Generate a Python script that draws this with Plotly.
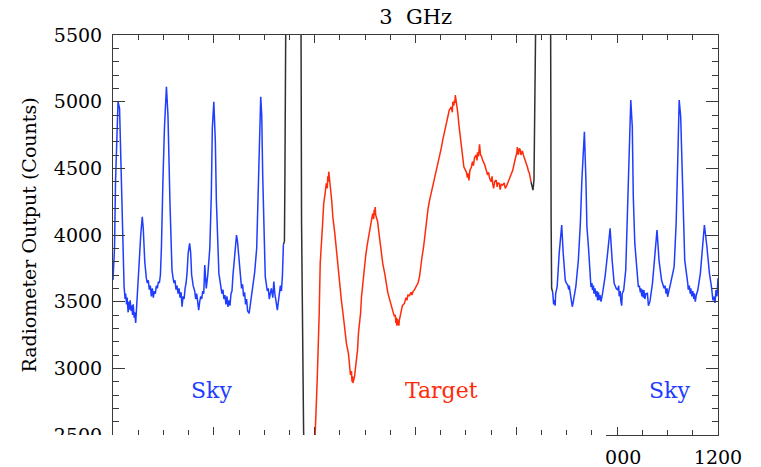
import plotly.graph_objects as go

# Radiometer scan at 3 GHz: sky / target / sky, counts versus sample number
sky1_x = [0, 3, 5, 8, 10, 13, 16, 19, 22, 24,
          25, 27, 28, 30, 31, 33, 34, 36, 37, 39,
          40, 42, 43, 45, 47, 49, 52, 55, 58, 60,
          63, 66, 68, 70, 72, 74, 76, 78, 80, 82,
          84, 86, 88, 90, 92, 94, 96, 99, 102, 106,
          109, 113, 117, 119, 121, 123, 125, 127, 129, 131,
          133, 135, 137, 139, 141, 143, 145, 147, 149, 152,
          154, 156, 159, 162, 164, 166, 168, 170, 172, 174,
          176, 178, 180, 182, 185, 188, 192, 195, 197, 200,
          203, 205, 210, 212, 214, 216, 218, 220, 222, 224,
          226, 228, 230, 232, 234, 236, 238, 242, 245, 247,
          250, 253, 255, 257, 259, 261, 263, 265, 267, 270,
          273, 277, 281, 285, 288, 290, 293, 295, 297, 302,
          304, 306, 308, 310, 312, 314, 317, 319, 321, 323,
          326, 328, 330, 332, 334, 336, 338]
sky1_y = [3662, 3900, 4400, 4900, 5000, 4950, 4437, 4062, 3612, 3520,
          3560, 3480, 3530, 3420, 3500, 3440, 3510, 3430, 3470, 3400,
          3480, 3380, 3420, 3340, 3450, 3600, 3800, 4000, 4137, 4050,
          3800, 3680, 3640, 3660, 3590, 3620, 3540, 3600, 3530, 3580,
          3560, 3620, 3600, 3650, 3640, 3700, 3900, 4400, 4800, 5112,
          4900, 4240, 3737, 3680, 3640, 3660, 3590, 3620, 3560, 3600,
          3530, 3570, 3462, 3540, 3520, 3600, 3640, 3720, 3860, 3937,
          3870, 3700, 3620, 3580, 3520, 3560, 3490, 3437, 3500, 3540,
          3520, 3580, 3560, 3775, 3600, 3700, 3900, 4300, 4800, 5000,
          4700, 4262, 3712, 3660, 3620, 3560, 3590, 3520, 3550, 3480,
          3540, 3460, 3510, 3470, 3560, 3580, 3700, 3900, 4000, 3950,
          3800, 3662, 3600, 3630, 3540, 3570, 3480, 3520, 3430, 3412,
          3500, 3600, 3720, 3900, 4300, 4700, 5037, 4900, 4437, 3687,
          3620, 3580, 3600, 3520, 3560, 3600, 3530, 3650, 3560, 3520,
          3437, 3500, 3560, 3620, 3580, 3690, 3930]

edge1_x = [338, 340, 341, 342, 344, 368, 373, 374, 376, 378, 380, 384]
edge1_y = [3930, 3950, 4450, 5300, 6500, 6500, 5500, 4090, 3137, 2537, 2200, 1900]

target_x = [399, 401, 405, 409, 411, 415, 418, 421, 423, 425,
            426, 427, 428, 429, 430, 431, 434, 436, 440, 443,
            446, 450, 453, 457, 460, 463, 467, 469, 471, 473,
            474, 475, 476, 479, 482, 485, 487, 491, 493, 496,
            499, 501, 504, 507, 509, 513, 515, 517, 518, 519,
            520, 521, 523, 525, 527, 529, 532, 535, 539, 542,
            545, 549, 552, 555, 558, 560, 561, 562, 563, 564,
            565, 567, 568, 571, 574, 578, 581, 583, 585, 588,
            591, 593, 595, 598, 601, 605, 608, 610, 613, 616,
            618, 620, 622, 625, 628, 631, 634, 638, 641, 644,
            648, 651, 654, 658, 661, 664, 667, 671, 673, 674,
            676, 677, 678, 679, 681, 684, 686, 689, 691, 694,
            696, 699, 701, 703, 704, 706, 708, 711, 713, 715,
            717, 720, 722, 723, 725, 727, 729, 731, 733, 737,
            740, 743, 745, 747, 750, 752, 753, 755, 757, 760,
            762, 763, 766, 768, 770, 773, 776, 778, 780, 783,
            786, 789, 793, 796, 799, 801, 802, 804, 806, 808,
            809, 812, 814, 816, 819, 822, 824, 826, 829]
target_y = [2300, 2487, 2912, 3412, 3787, 4037, 4237, 4320, 4387, 4350,
            4440, 4400, 4475, 4410, 4440, 4362, 4250, 4137, 4010, 3887,
            3760, 3637, 3510, 3387, 3290, 3187, 3110, 3012, 2950, 2980,
            2900, 2940, 2890, 2937, 3030, 3137, 3270, 3412, 3540, 3662,
            3760, 3837, 3920, 3987, 4050, 4112, 4160, 4120, 4190, 4150,
            4210, 4150, 4120, 4100, 4030, 3962, 3870, 3787, 3710, 3637,
            3570, 3512, 3470, 3437, 3390, 3400, 3340, 3380, 3320, 3370,
            3350, 3320, 3362, 3420, 3470, 3487, 3530, 3510, 3550, 3545,
            3570, 3550, 3575, 3590, 3612, 3640, 3687, 3760, 3837, 3910,
            3987, 4060, 4137, 4200, 4262, 4310, 4362, 4420, 4487, 4540,
            4587, 4650, 4712, 4780, 4837, 4890, 4937, 4960, 4920, 5000,
            4970, 5010, 4990, 5050, 5000, 4912, 4830, 4737, 4650, 4562,
            4510, 4487, 4470, 4430, 4462, 4410, 4487, 4510, 4550, 4520,
            4580, 4600, 4560, 4620, 4590, 4680, 4600, 4590, 4562, 4530,
            4487, 4450, 4470, 4425, 4400, 4440, 4387, 4350, 4400, 4412,
            4360, 4390, 4387, 4340, 4380, 4375, 4390, 4350, 4362, 4390,
            4412, 4450, 4487, 4540, 4587, 4620, 4660, 4600, 4650, 4637,
            4600, 4630, 4600, 4580, 4550, 4510, 4480, 4462, 4400]

edge2_x = [829, 831, 833, 835, 836, 838, 839, 841, 865, 868, 869, 870, 872]
edge2_y = [4400, 4362, 4337, 4412, 4712, 5387, 5600, 6500, 6500, 5600, 4112, 3600, 3575]

sky2_x = [872, 874, 875, 877, 878, 881, 885, 890, 893, 897,
          899, 902, 904, 905, 907, 909, 911, 913, 915, 918,
          923, 927, 930, 933, 935, 938, 940, 943, 946, 948,
          950, 951, 953, 954, 956, 958, 960, 961, 963, 964,
          966, 968, 971, 976, 981, 986, 990, 994, 996, 998,
          1001, 1003, 1004, 1006, 1007, 1009, 1010, 1013, 1017, 1020,
          1024, 1027, 1030, 1032, 1035, 1040, 1042, 1044, 1046, 1047,
          1049, 1050, 1052, 1053, 1055, 1057, 1060, 1062, 1065, 1070,
          1075, 1079, 1083, 1088, 1093, 1095, 1097, 1099, 1100, 1103,
          1106, 1113, 1117, 1120, 1123, 1126, 1129, 1131, 1134, 1140,
          1141, 1143, 1145, 1146, 1148, 1150, 1152, 1153, 1155, 1157,
          1160, 1165, 1170, 1173, 1178, 1183, 1187, 1189, 1190, 1192,
          1194, 1196, 1198, 1200]
sky2_y = [3575, 3480, 3512, 3470, 3560, 3612, 3862, 4075, 3862, 3662,
          3640, 3625, 3590, 3620, 3562, 3520, 3462, 3500, 3540, 3612,
          3812, 4087, 4412, 4637, 4775, 4412, 4062, 3912, 3662, 3610,
          3640, 3587, 3620, 3560, 3600, 3537, 3580, 3510, 3570, 3512,
          3550, 3500, 3562, 3687, 3862, 4050, 3812, 3637, 3620, 3600,
          3587, 3620, 3540, 3580, 3512, 3470, 3560, 3587, 3737, 4162,
          4587, 5012, 4812, 4287, 3937, 3662, 3610, 3620, 3570, 3600,
          3540, 3590, 3530, 3587, 3520, 3560, 3562, 3470, 3500, 3637,
          3837, 4037, 3812, 3662, 3600, 3620, 3560, 3600, 3537, 3580,
          3637, 3762, 4087, 4537, 5012, 4887, 4412, 4087, 3812, 3637,
          3590, 3620, 3560, 3600, 3540, 3580, 3520, 3562, 3500, 3550,
          3587, 3712, 3912, 4075, 3912, 3712, 3612, 3560, 3510, 3537,
          3490, 3587, 3540, 3675]

x_ticks = [0, 200, 400, 600, 800, 1000, 1200]
x_labels = ["", "", "", "", "", "1000", "1200"]
y_ticks = [2500, 3000, 3500, 4000, 4500, 5000, 5500]

BLUE = "#1f3dff"
RED = "#ff2b0a"
BLACK = "#303030"
AXIS = "#3a3a3a"
FONT = "DejaVu Serif"

fig = go.Figure()
for xs, ys, col in [(sky1_x, sky1_y, BLUE), (edge1_x, edge1_y, BLACK),
                    (target_x, target_y, RED), (edge2_x, edge2_y, BLACK),
                    (sky2_x, sky2_y, BLUE)]:
    fig.add_trace(go.Scatter(x=xs, y=ys, mode="lines", line=dict(color=col, width=1.5),
                             showlegend=False, hoverinfo="skip"))

for txt, xv, col in [("Sky", 196, BLUE), ("Target", 651, RED), ("Sky", 1103, BLUE)]:
    fig.add_annotation(x=xv, y=2837, text=txt, showarrow=False,
                       font=dict(family=FONT, size=22, color=col))

# white band hiding the lower-left part of the frame
fig.add_shape(type="rect", xref="paper", yref="paper", x0=-0.3, x1=0.8149, y0=-0.2, y1=0,
              fillcolor="white", line=dict(width=0), layer="above")

fig.update_layout(
    width=761, height=467,
    margin=dict(l=113, r=43, t=35, b=32, autoexpand=False),
    paper_bgcolor="white", plot_bgcolor="white",
    title=dict(text="3&nbsp;&nbsp;GHz", x=0.5462, xanchor="center", y=0.965, yanchor="middle",
               font=dict(family=FONT, size=21, color="black")),
    font=dict(family=FONT, size=19, color="black"),
)
fig.update_xaxes(range=[0, 1200], tickvals=x_ticks, ticktext=x_labels, ticks="inside",
                 ticklen=8, tickwidth=1, tickcolor=AXIS, showline=True, linecolor=AXIS,
                 linewidth=1, mirror="allticks", showgrid=False, zeroline=False,
                 ticklabelstandoff=5, automargin=False,
                 minor=dict(dtick=50, ticks="inside", ticklen=5, tickcolor=AXIS, showgrid=False),
                 tickfont=dict(family=FONT, size=19))
fig.update_yaxes(range=[2500, 5500], tickvals=y_ticks, ticks="inside", ticklen=12, tickwidth=1,
                 tickcolor=AXIS, showline=True, linecolor=AXIS, linewidth=1, mirror="allticks",
                 showgrid=False, zeroline=False, ticklabelstandoff=6, automargin=False,
                 minor=dict(dtick=100, ticks="inside", ticklen=6, tickcolor=AXIS, showgrid=False),
                 tickfont=dict(family=FONT, size=19),
                 title=dict(text="Radiometer Output (Counts)", standoff=12,
                            font=dict(family=FONT, size=19)))

fig.write_html("out.html")
